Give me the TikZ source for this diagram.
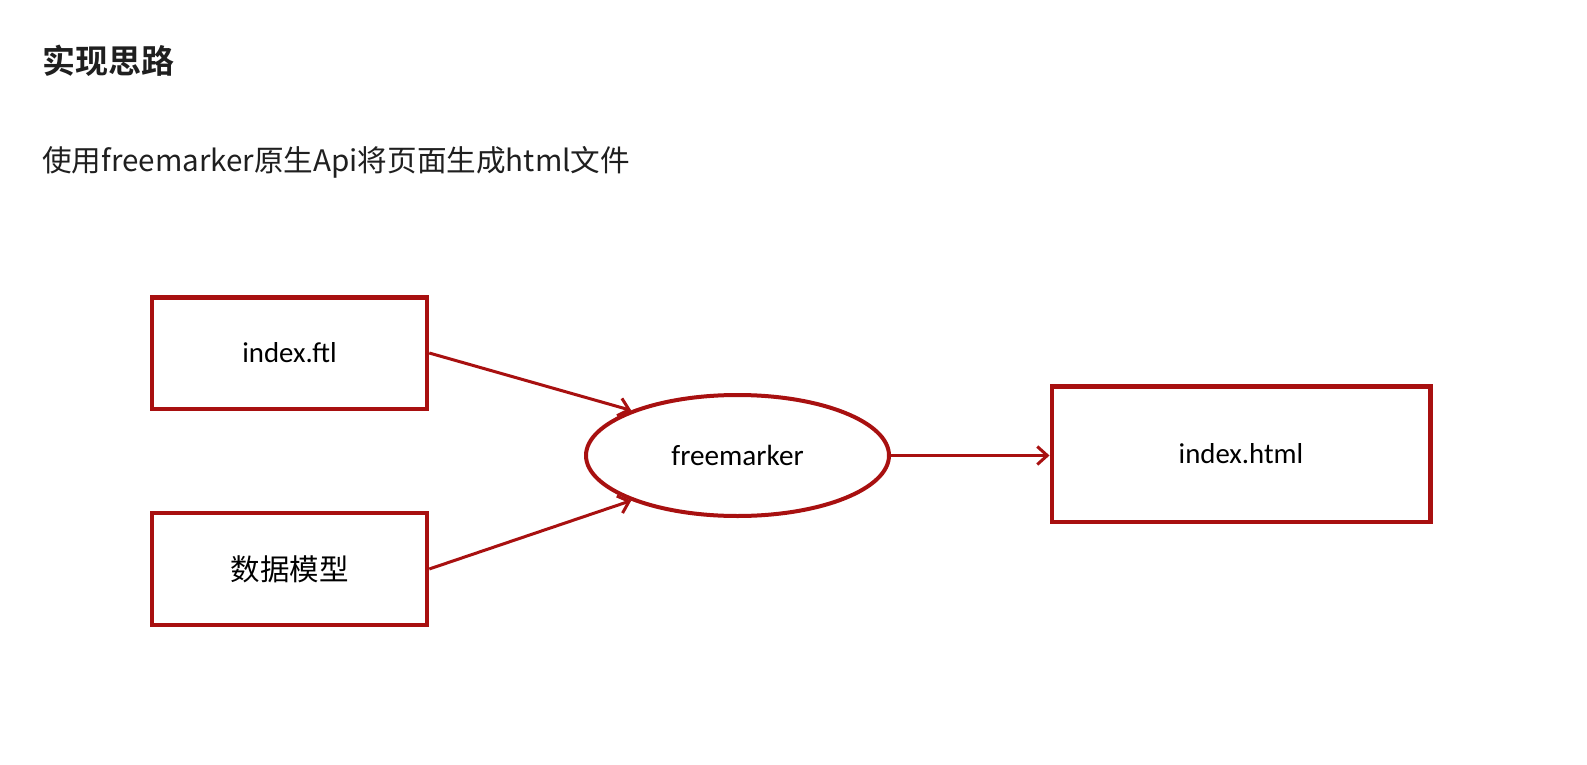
\documentclass[tikz,border=0pt]{standalone}
\usepackage{fontspec}
\usetikzlibrary{shapes.geometric,arrows.meta}
\newfontfamily\cjkfont{Noto Sans CJK SC}
\newfontfamily\cjkbold{Noto Sans CJK SC Bold}
\newfontfamily\calfont{Carlito}
\definecolor{boxred}{RGB}{168,16,16}
\tikzset{
  box/.style={draw=boxred, line width=4.5pt, rectangle, inner sep=0pt, font=\calfont\fontsize{28.8}{32}\selectfont},
  oval/.style={draw=boxred, line width=4pt, ellipse, inner sep=0pt, font=\calfont\fontsize{29.2}{32}\selectfont},
  conn/.style={draw=boxred, line width=3pt, -{Straight Barb[length=10pt,width=18pt,line width=3pt]}},
  txt/.style={anchor=west, inner sep=0pt, text=black!88}
}
\begin{document}
\begin{tikzpicture}[x=1pt,y=-1pt]
\useasboundingbox[fill=white] (0,0) rectangle (1587,765);
\node[txt, font=\cjkbold\fontsize{33}{38}\selectfont] (title) at (42,61) {实现思路};
\node[txt, font=\cjkfont\fontsize{29.6}{34}\selectfont] (sub) at (42,162) {使用freemarker原生Api将页面生成html文件};
\node[box, minimum width=275pt, minimum height=111.5pt] (ftl) at (289.5,353) {index.ftl};
\node[box, minimum width=275pt, minimum height=112pt, font=\cjkfont\fontsize{29.5}{32}\selectfont] (model) at (289.5,569) {数据模型};
\node[oval, minimum width=303pt, minimum height=121pt] (fm) at (737.5,455.5) {freemarker};
\node[box, minimum width=378.5pt, minimum height=135.5pt] (html) at (1241,454) {index.html};
\draw[conn] (ftl.east) -- (fm.157);
\draw[conn] (model.east) -- (fm.203);
\draw[conn] (fm.east) -- (html.west|-fm.east);
\end{tikzpicture}
\end{document}
